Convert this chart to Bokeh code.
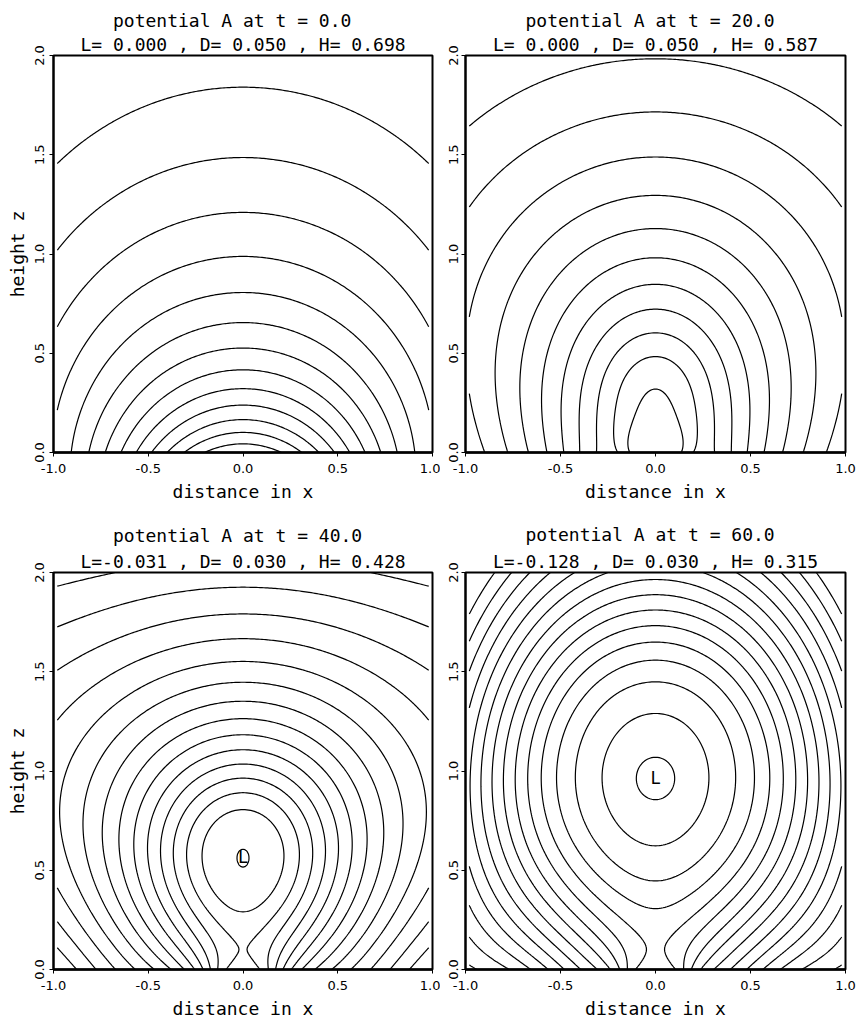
import numpy as np
from bokeh.plotting import figure
from bokeh.layouts import column, row
from bokeh.models import Range1d, FixedTicker, PrintfTickFormatter, Label, Title
from bokeh.embed import file_html
from bokeh.resources import INLINE

# ---------------- chart parameters ----------------
TIMES = [0.0, 20.0, 40.0, 60.0]
L_VALUES = [0.000, 0.000, -0.031, -0.128]
D_VALUES = [0.050, 0.050, 0.030, 0.030]
H_VALUES = [0.698, 0.587, 0.428, 0.315]
X_TICKS = [-1.0, -0.5, 0.0, 0.5, 1.0]
Z_TICKS = [0.0, 0.5, 1.0, 1.5, 2.0]
SIDE_X = 0.98

# O-point (minimum "L") positions on x = 0
O_POINT_Z = [None, None, 0.566, 0.963]

# ---- t = 0 : contour crossings ----
T0_AXIS_Z = [0.042, 0.096, 0.159, 0.238, 0.322, 0.416, 0.508, 0.653, 0.805, 0.985, 1.208, 1.485, 1.849]
T0_AXIS_LEVEL = [0.05, 0.10, 0.15, 0.20, 0.25, 0.30, 0.35, 0.40, 0.45, 0.50, 0.55, 0.60, 0.65]
T0_BASE_X = [0.21, 0.313, 0.397, 0.485, 0.565, 0.648, 0.732, 0.811, 0.903]
T0_BASE_LEVEL = [0.05, 0.10, 0.15, 0.20, 0.25, 0.30, 0.35, 0.40, 0.45]
T0_SIDE_Z = [0.227, 0.646, 1.03, 1.473]
T0_SIDE_LEVEL = [0.50, 0.55, 0.60, 0.65]
T0_EXTRA_X = [0.0]
T0_EXTRA_Z = [0.0]
T0_EXTRA_LEVEL = [0.0]
T0_NECK_X = []
T0_NECK_Z = []
T0_NECK_LEVEL = []

# ---- t = 20 ----
T20_AXIS_Z = [0.30, 0.46, 0.59, 0.723, 0.849, 0.986, 1.13, 1.30, 1.49, 1.72, 1.98]
T20_AXIS_LEVEL = [0.05, 0.10, 0.15, 0.20, 0.25, 0.30, 0.35, 0.40, 0.45, 0.50, 0.55]
T20_BASE_X = [0.133, 0.211, 0.308, 0.387, 0.483, 0.579, 0.675, 0.77, 0.89]
T20_BASE_LEVEL = [0.05, 0.10, 0.15, 0.20, 0.25, 0.30, 0.35, 0.40, 0.45]
T20_SIDE_Z = [0.253, 0.697, 1.213, 1.639]
T20_SIDE_LEVEL = [0.45, 0.45, 0.50, 0.55]
T20_EXTRA_X = [0.133, 0.125, 0.211, 0.22]
T20_EXTRA_Z = [0.10, 0.20, 0.15, 0.32]
T20_EXTRA_LEVEL = [0.05, 0.05, 0.10, 0.10]
T20_NECK_X = [0.0, 0.0]
T20_NECK_Z = [0.0, 0.15]
T20_NECK_LEVEL = [0.0, 0.018]

# ---- t = 40 ----
T40_AXIS_Z = [0.52, 0.614, 0.295, 0.751, 0.81, 0.90, 1.0, 1.095, 1.19, 1.287, 1.38, 1.472, 1.564, 1.656, 1.79, 1.89]
T40_AXIS_LEVEL = [-0.03, -0.03, 0.0, 0.0, 0.03, 0.06, 0.09, 0.12, 0.15, 0.18, 0.21, 0.24, 0.27, 0.30, 0.33, 0.36]
T40_BASE_X = [0.075, 0.114, 0.149, 0.193, 0.246, 0.307, 0.378, 0.466, 0.562, 0.659, 0.773, 0.896]
T40_BASE_LEVEL = [0.03, 0.06, 0.09, 0.12, 0.15, 0.18, 0.21, 0.24, 0.27, 0.30, 0.33, 0.36]
T40_SIDE_Z = [0.106, 0.248, 0.433, 1.28, 1.51, 1.73]
T40_SIDE_LEVEL = [0.36, 0.33, 0.30, 0.30, 0.33, 0.36]
T40_EXTRA_X = [0.041, 0.19, 0.08, 0.121, 0.218, 0.235]
T40_EXTRA_Z = [0.566, 0.57, 0.10, 0.198, 0.365, 0.533]
T40_EXTRA_LEVEL = [-0.03, 0.0, 0.03, 0.03, 0.03, 0.03]
T40_NECK_X = [0.0, 0.0, 0.0, 0.0, 0.02, 0.04, 0.055, 0.0, 0.0]
T40_NECK_Z = [0.0, 0.08, 0.16, 0.24, 0.0, 0.0, 0.0, 0.52, 0.614]
T40_NECK_LEVEL = [0.014, 0.016, 0.016, 0.01, 0.0145, 0.017, 0.021, -0.03, -0.03]

# ---- t = 60 ----
T60_AXIS_Z = [0.845, 1.097, 0.672, 1.257, 0.437, 1.375, 0.308, 1.492, 1.61, 1.72, 1.83, 1.94]
T60_AXIS_LEVEL = [-0.12, -0.12, -0.09, -0.09, -0.06, -0.06, -0.03, -0.03, 0.0, 0.03, 0.06, 0.09]
T60_BASE_X = [0.079, 0.122, 0.166, 0.219, 0.28, 0.359, 0.455, 0.56, 0.665, 0.787, 0.91]
T60_BASE_LEVEL = [0.0, 0.03, 0.06, 0.09, 0.12, 0.15, 0.18, 0.21, 0.24, 0.27, 0.30]
T60_SIDE_Z = [0.058, 0.185, 0.32, 0.47, 0.648]
T60_SIDE_LEVEL = [0.30, 0.27, 0.24, 0.21, 0.18]
T60_EXTRA_X = [0.258, 0.372, 0.48, 0.085, 0.093, 0.198, 0.56, 0.72, 0.86]
T60_EXTRA_Z = [0.97, 0.95, 1.0, 0.08, 0.16, 0.26, 1.0, 1.0, 1.0]
T60_EXTRA_LEVEL = [-0.09, -0.06, -0.03, 0.0, 0.0, 0.0, 0.0, 0.06, 0.12]
T60_NECK_X = [0.0, 0.0, 0.0, 0.0, 0.02, 0.04, 0.06, 0.0, 0.0, 0.118]
T60_NECK_Z = [0.0, 0.08, 0.16, 0.24, 0.0, 0.0, 0.0, 0.845, 1.097, 0.97]
T60_NECK_LEVEL = [-0.016, -0.014, -0.014, -0.02, -0.0155, -0.013, -0.007, -0.12, -0.12, -0.12]

PANELS = [
    (T0_AXIS_Z, T0_AXIS_LEVEL, T0_BASE_X, T0_BASE_LEVEL, T0_SIDE_Z, T0_SIDE_LEVEL,
     T0_EXTRA_X, T0_EXTRA_Z, T0_EXTRA_LEVEL, T0_NECK_X, T0_NECK_Z, T0_NECK_LEVEL),
    (T20_AXIS_Z, T20_AXIS_LEVEL, T20_BASE_X, T20_BASE_LEVEL, T20_SIDE_Z, T20_SIDE_LEVEL,
     T20_EXTRA_X, T20_EXTRA_Z, T20_EXTRA_LEVEL, T20_NECK_X, T20_NECK_Z, T20_NECK_LEVEL),
    (T40_AXIS_Z, T40_AXIS_LEVEL, T40_BASE_X, T40_BASE_LEVEL, T40_SIDE_Z, T40_SIDE_LEVEL,
     T40_EXTRA_X, T40_EXTRA_Z, T40_EXTRA_LEVEL, T40_NECK_X, T40_NECK_Z, T40_NECK_LEVEL),
    (T60_AXIS_Z, T60_AXIS_LEVEL, T60_BASE_X, T60_BASE_LEVEL, T60_SIDE_Z, T60_SIDE_LEVEL,
     T60_EXTRA_X, T60_EXTRA_Z, T60_EXTRA_LEVEL, T60_NECK_X, T60_NECK_Z, T60_NECK_LEVEL),
]

# ---------------- smooth field through the read crossings ----------------
XS = np.linspace(-SIDE_X, SIDE_X, 197)
ZS = np.linspace(0.0, 2.0, 201)


def const_term():
    return lambda x, z: 1.0 + 0.0 * x * z


def lin_term():
    return lambda x, z: z + 0.0 * x


def dipole_term(d):
    return lambda x, z: 1.0 - d * (z + d) / (x * x + (z + d) ** 2)


def rope_term(z0, a):
    return lambda x, z: 0.5 * np.log((x * x + (z - z0) ** 2 + a * a) /
                                     (x * x + (z + z0) ** 2 + a * a))


def basis_for(i):
    if i == 0:
        return [const_term(), lin_term(), dipole_term(0.5), dipole_term(1.0), dipole_term(2.0)]
    b = [const_term(), lin_term()] + [dipole_term(d) for d in (0.05, 0.1, 0.2, 0.4, 0.8, 1.6, 3.2)]
    if i == 1:
        b += [rope_term(0.35, 0.25), rope_term(0.7, 0.45)]
    else:
        z0 = O_POINT_Z[i]
        b += [rope_term(z0, 0.2), rope_term(z0, 0.4), rope_term(z0, 0.7), rope_term(z0 + 0.25, 0.3)]
    return b


def fit_field(i):
    az, al, bx, bl, sz, sl, ex, ez, el, nx, nz, nl = PANELS[i]
    px = [0.0] * len(az) + list(bx) + [SIDE_X] * len(sz) + list(ex) + list(nx)
    pz = list(az) + [0.0] * len(bx) + list(sz) + list(ez) + list(nz)
    pv = list(al) + list(bl) + list(sl) + list(el) + list(nl)
    pw = [1.0] * (len(pv) - len(nz)) + [3.0] * len(nz)
    basis = basis_for(i)
    w = np.array(pw)
    M = np.array([[f(x, z) for f in basis] for x, z in zip(px, pz)], float) * w[:, None]
    b = np.array(pv, float) * w
    if O_POINT_Z[i] is not None:
        zo = O_POINT_Z[i]
        h = 1e-3
        val = np.array([f(0.0, zo) for f in basis])
        dz = np.array([(f(0.0, zo + h) - f(0.0, zo - h)) / (2 * h) for f in basis])
        M = np.vstack([M, 6.0 * val, 4.0 * dz])
        b = np.concatenate([b, [6.0 * L_VALUES[i], 0.0]])
    scale = np.sqrt((M ** 2).mean(axis=0)) + 1e-12
    Mn = M / scale
    n = Mn.shape[1]
    Ma = np.vstack([Mn, 1e-3 * np.eye(n)])
    ba = np.concatenate([b, np.zeros(n)])
    c, *_ = np.linalg.lstsq(Ma, ba, rcond=None)
    c = c / scale
    Xg, Zg = np.meshgrid(XS, ZS)
    F = np.zeros_like(Xg)
    for cj, f in zip(c, basis):
        F += cj * f(Xg, Zg)
    return F


def levels_for(i):
    D = D_VALUES[i]
    k0 = int(np.floor(L_VALUES[i] / D)) + 1
    k1 = int(np.ceil(H_VALUES[i] / D)) - 1
    return [round(k * D, 4) for k in range(k0, k1 + 1)]


# ---------------- layout ----------------
MONO = "DejaVu Sans Mono"
SANS = "DejaVu Sans"
BOX = [  # left, frame_w, right, top, frame_h, bottom, standoff line1, standoff line2
    (53, 379, 8, 55, 397, 58, 0, 2),
    (25, 380, 17, 55, 397, 58, 0, 2),
    (53, 379, 8, 62, 397, 53, 5, 1),
    (25, 380, 17, 62, 397, 53, 6, 2),
]


def style_title(t, text, standoff):
    t.text = text
    t.align = "center"
    t.standoff = standoff
    t.text_font = MONO
    t.text_font_size = "18px"
    t.text_font_style = "normal"
    t.text_color = "black"


def make_panel(i):
    left, fw, right, top, fh, bottom, s1, s2 = BOX[i]
    p = figure(x_range=Range1d(-1, 1), y_range=Range1d(0, 2),
               frame_width=fw, frame_height=fh,
               min_border_left=left, min_border_right=right,
               min_border_top=top, min_border_bottom=bottom,
               output_backend="svg", toolbar_location=None, tools="")
    F = fit_field(i)
    p.contour(XS, ZS, F, levels_for(i), line_color="black", line_width=1.2)

    p.xgrid.grid_line_color = None
    p.ygrid.grid_line_color = None
    p.outline_line_color = "black"
    p.outline_line_width = 2
    p.outline_line_alpha = 1.0
    p.background_fill_color = "white"
    p.border_fill_color = "white"

    for ax in (p.xaxis, p.yaxis):
        ax.formatter = PrintfTickFormatter(format="%.1f")
        ax.major_tick_out = 4
        ax.major_tick_in = 0
        ax.minor_tick_line_color = None
        ax.major_label_text_font = SANS
        ax.major_label_text_font_size = "13px"
        ax.major_label_text_color = "black"
        ax.axis_label_text_font = MONO
        ax.axis_label_text_font_size = "18px"
        ax.axis_label_text_font_style = "normal"
        ax.axis_label_text_color = "black"
        ax.axis_line_color = "black"
        ax.major_tick_line_color = "black"
    p.xaxis.ticker = FixedTicker(ticks=X_TICKS)
    p.yaxis.ticker = FixedTicker(ticks=Z_TICKS)
    p.xaxis.axis_line_width = 2.5
    p.yaxis.axis_line_width = 2
    p.xaxis.major_label_standoff = 7
    p.xaxis.axis_label_standoff = 5
    p.xaxis.axis_label = "distance in x"
    p.yaxis.major_label_orientation = "vertical"
    if i % 2 == 0:
        p.yaxis.axis_label = "height z"
        p.yaxis.major_label_standoff = 6
        p.yaxis.axis_label_standoff = 4
    else:
        p.yaxis.major_label_standoff = 4

    line1 = "potential A at t = %5.1f" % TIMES[i]
    line2 = "L=%6.3f , D=%6.3f , H=%6.3f" % (L_VALUES[i], D_VALUES[i], H_VALUES[i])
    # the plot's own title is the outer line, an extra Title the inner line
    style_title(p.title, line1, s1)
    sub = Title()
    style_title(sub, line2, s2)
    p.add_layout(sub, "above")
    if O_POINT_Z[i] is not None:
        p.add_layout(Label(x=0, y=O_POINT_Z[i], text="L", text_align="center",
                           text_baseline="middle", text_font=MONO,
                           text_font_size="17px", text_color="black"))
    return p


panels = [make_panel(i) for i in range(4)]
layout = column(row(panels[0], panels[1]), row(panels[2], panels[3]))

html = file_html(layout, INLINE, title="potential A")
html = html.replace("</head>", "<style>html,body{margin:0;padding:0;}</style></head>", 1)
open("out.html", "w").write(html)
